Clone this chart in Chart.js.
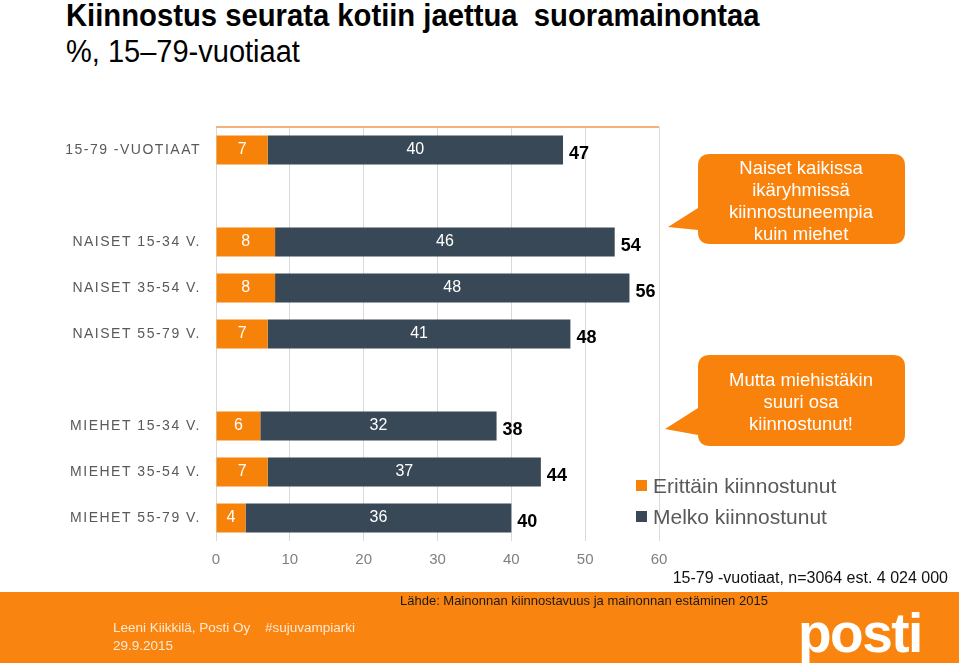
<!DOCTYPE html>
<html><head><meta charset="utf-8">
<script src="https://cdn.jsdelivr.net/npm/chart.js@4"></script>
<style>
html,body{margin:0;padding:0;background:#fff;width:959px;height:663px;overflow:hidden;position:relative;font-family:"Liberation Sans",Arial,sans-serif;}
.abs{position:absolute;white-space:nowrap;}
#title{left:66px;top:-2px;font-weight:bold;font-size:31px;color:#000;transform:scaleX(0.943);transform-origin:0 0;}
#subtitle{left:66px;top:34px;font-size:31px;color:#000;transform:scaleX(0.936);transform-origin:0 0;}
#chartBox{left:0;top:100px;width:680px;height:481px;}
#footer{left:0;top:592px;width:959px;height:71px;background:#F9840F;}
#note{right:11px;top:569px;font-size:16px;color:#111;}
#source{left:400px;top:593px;font-size:13px;color:#1a1a1a;}
.foot{font-size:13.5px;color:#FFE9D2;}
#logo{left:798px;top:601px;font-size:55px;font-weight:bold;color:#fff;letter-spacing:-1.5px;}
#legend{left:636px;top:470px;font-size:21px;color:#595959;}
#legend .row{display:flex;align-items:center;height:31px;}
#legend .sw{width:11px;height:11px;margin-right:6px;}
svg{position:absolute;left:0;top:0;}
</style></head>
<body>
<div id="title" class="abs">Kiinnostus seurata kotiin jaettua&nbsp; suoramainontaa</div>
<div id="subtitle" class="abs">%, 15–79-vuotiaat</div>
<div id="chartBox" class="abs"><canvas id="c"></canvas></div>
<svg width="959" height="663">
  <path d="M710 154 H893 Q905 154 905 166 V232 Q905 244 893 244 H710 Q698 244 698 232 V230 L668 227 L698 208 V166 Q698 154 710 154 Z" fill="#F8820B"/>
  <g fill="#fff" font-family="Liberation Sans, Arial, sans-serif" font-size="18.5" text-anchor="middle" dominant-baseline="central">
    <text x="801" y="167">Naiset kaikissa</text>
    <text x="801" y="189">ikäryhmissä</text>
    <text x="801" y="211">kiinnostuneempia</text>
    <text x="801" y="233">kuin miehet</text>
  </g>
  <path d="M710 355 H893 Q905 355 905 367 V434 Q905 446 893 446 H710 Q698 446 698 434 V435 L665 429 L698 408 V367 Q698 355 710 355 Z" fill="#F8820B"/>
  <g fill="#fff" font-family="Liberation Sans, Arial, sans-serif" font-size="18.5" text-anchor="middle" dominant-baseline="central">
    <text x="801" y="379">Mutta miehistäkin</text>
    <text x="801" y="401">suuri osa</text>
    <text x="801" y="423">kiinnostunut!</text>
  </g>
</svg>
<div id="legend" class="abs"></div>
<div id="note" class="abs">15-79 -vuotiaat, n=3064 est. 4 024 000</div>
<div id="footer" class="abs"></div>
<div id="source" class="abs">Lähde: Mainonnan kiinnostavuus ja mainonnan estäminen 2015</div>
<div class="abs foot" style="left:113px;top:620px;">Leeni Kiikkilä, Posti Oy</div>
<div class="abs foot" style="left:265px;top:620px;">#sujuvampiarki</div>
<div class="abs foot" style="left:113px;top:638px;">29.9.2015</div>
<div id="logo" class="abs">posti</div>
<script>
const categories = ['15-79 -VUOTIAAT', '', 'NAISET 15-34 V.', 'NAISET 35-54 V.', 'NAISET 55-79 V.', '', 'MIEHET 15-34 V.', 'MIEHET 35-54 V.', 'MIEHET 55-79 V.'];
const veryInterested = [7, null, 8, 8, 7, null, 6, 7, 4];
const fairlyInterested = [40, null, 46, 48, 41, null, 32, 37, 36];
const totals = [47, null, 54, 56, 48, null, 38, 44, 40];
const seriesNames = ['Erittäin kiinnostunut', 'Melko kiinnostunut'];
const seriesColors = ['#F7820A', '#394856'];
const xTicks = [0, 10, 20, 30, 40, 50, 60];

const legendEl = document.getElementById('legend');
seriesNames.forEach((n, i) => {
  const r = document.createElement('div'); r.className = 'row';
  const s = document.createElement('span'); s.className = 'sw'; s.style.background = seriesColors[i];
  const t = document.createElement('span'); t.textContent = n;
  r.appendChild(s); r.appendChild(t); legendEl.appendChild(r);
});

const labelPlugin = {
  id: 'labels',
  afterDraw(chart) {
    const ctx = chart.ctx, ca = chart.chartArea, xs = chart.scales.x, ys = chart.scales.y;
    ctx.save();
    ctx.strokeStyle = '#F4B27A'; ctx.lineWidth = 2;
    ctx.beginPath(); ctx.moveTo(ca.left, ca.top); ctx.lineTo(ca.right, ca.top); ctx.stroke();
    ctx.font = '14px "Liberation Sans", Arial, sans-serif';
    ctx.fillStyle = '#595959'; ctx.textAlign = 'right'; ctx.textBaseline = 'middle';
    ctx.letterSpacing = '1.5px';
    categories.forEach((c, i) => { if (c) ctx.fillText(c, ca.left - 15, ys.getPixelForValue(i)); });
    ctx.letterSpacing = '0px';
    ctx.font = '16px "Liberation Sans", Arial, sans-serif';
    ctx.fillStyle = '#fff'; ctx.textAlign = 'center';
    chart.data.datasets.forEach((ds, di) => {
      chart.getDatasetMeta(di).data.forEach((bar, i) => {
        const v = ds.data[i]; if (v == null) return;
        ctx.fillText(String(v), (bar.x + bar.base) / 2, bar.y);
      });
    });
    ctx.font = 'bold 18px "Liberation Sans", Arial, sans-serif';
    ctx.fillStyle = '#000'; ctx.textAlign = 'left';
    totals.forEach((t, i) => { if (t == null) return; ctx.fillText(String(t), xs.getPixelForValue(t) + 6, ys.getPixelForValue(i) + 4); });
    ctx.restore();
  }
};

new Chart(document.getElementById('c'), {
  type: 'bar',
  data: {
    labels: categories,
    datasets: [
      { label: seriesNames[0], data: veryInterested, backgroundColor: seriesColors[0], barPercentage: 0.63, categoryPercentage: 1 },
      { label: seriesNames[1], data: fairlyInterested, backgroundColor: seriesColors[1], barPercentage: 0.63, categoryPercentage: 1 }
    ]
  },
  options: {
    indexAxis: 'y', responsive: true, maintainAspectRatio: false, animation: false, devicePixelRatio: 1,
    layout: { padding: { left: 0, right: 21, top: 27, bottom: 0 } },
    plugins: { legend: { display: false }, tooltip: { enabled: false } },
    scales: {
      x: {
        stacked: true, min: 0, max: 60,
        afterBuildTicks: s => { s.ticks = xTicks.map(v => ({ value: v })); },
        afterFit: s => { s.height = 40; },
        grid: { color: '#D9D9D9', drawTicks: false },
        border: { display: false },
        ticks: { color: '#7F7F7F', font: { size: 15, family: '"Liberation Sans", Arial, sans-serif' }, padding: 10 }
      },
      y: {
        stacked: true,
        afterFit: s => { s.width = 216; },
        grid: { display: false }, border: { display: false },
        ticks: { display: false }
      }
    }
  },
  plugins: [labelPlugin]
});
</script>
</body></html>
